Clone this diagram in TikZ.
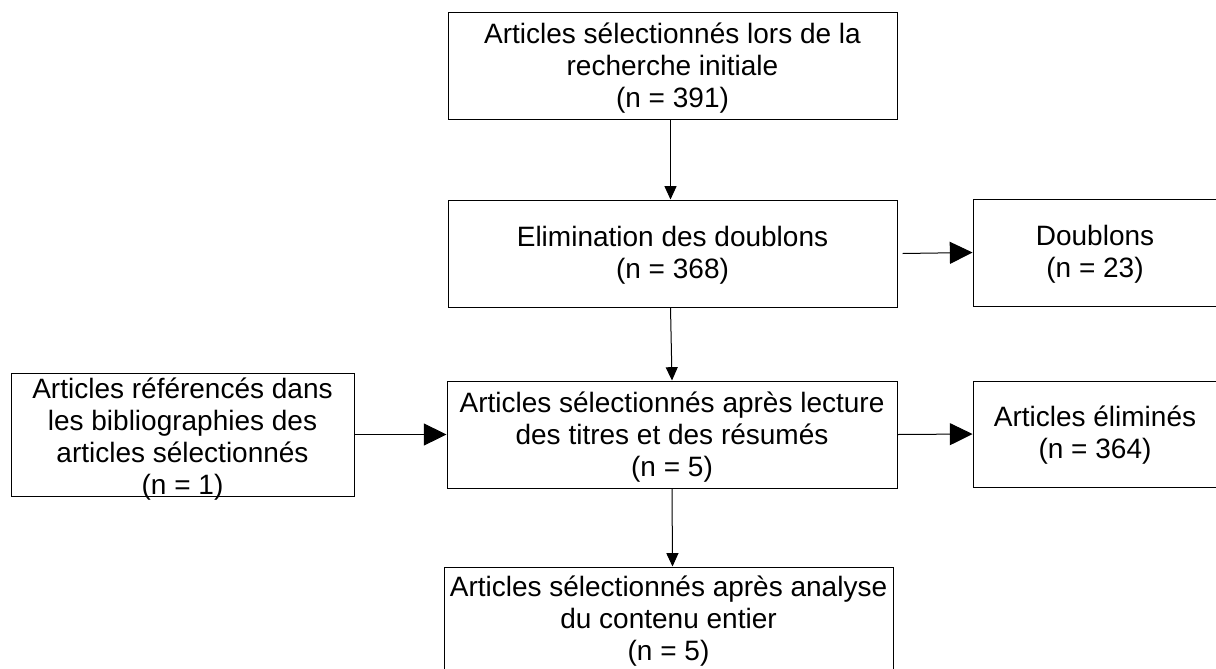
\documentclass[tikz,border=0pt]{standalone}
\usepackage{fontspec}
\setmainfont{Liberation Sans}
\usetikzlibrary{arrows.meta}
\tikzset{
  box/.style={draw=black, line width=0.75pt, rectangle, inner sep=0pt, fill=white},
  txt/.style={align=center, inner sep=0pt, font=\fontsize{21}{24}\selectfont},
  smallarrow/.style={draw=black, line width=0.75pt, -{Triangle[width=9pt,length=10pt]}},
  bigarrow/.style={draw=black, line width=0.75pt, -{Triangle[width=16.5pt,length=17pt]}}
}
\begin{document}
\begin{tikzpicture}[x=0.75pt,y=-0.75pt]
\clip (0,0) rectangle (1216,668);
\fill[white] (0,0) rectangle (1216,668);
% boxes
\node[box, minimum width=449*0.75pt, minimum height=107*0.75pt] (b1) at (672.5,65.5) {};
\node[txt] (b1t) at (672.5,68) {Articles sélectionnés lors de la\\recherche initiale\\(n = 391)};
\node[box, minimum width=449*0.75pt, minimum height=107*0.75pt] (b2) at (672.5,253.5) {};
\node[txt] (b2t) at (672.5,255) {Elimination des doublons\\(n = 368)};
\node[box, minimum width=247*0.75pt, minimum height=107*0.75pt] (dbl) at (1096.5,252.5) {};
\node[txt] (dblt) at (1095,254) {Doublons\\(n = 23)};
\node[box, minimum width=450*0.75pt, minimum height=107*0.75pt] (b3) at (672,434.5) {};
\node[txt] (b3t) at (672,437) {Articles sélectionnés après lecture\\des titres et des résumés\\(n = 5)};
\node[box, minimum width=247*0.75pt, minimum height=106*0.75pt] (elim) at (1096.5,434) {};
\node[txt] (elimt) at (1095,435.5) {Articles éliminés\\(n = 364)};
\node[box, minimum width=343*0.75pt, minimum height=123*0.75pt] (ref) at (182.5,434.5) {};
\node[txt] (reft) at (182.5,439) {Articles référencés dans\\les bibliographies des\\articles sélectionnés\\(n = 1)};
\node[box, minimum width=449*0.75pt, minimum height=107*0.75pt] (b4) at (668.5,620.5) {};
\node[txt] (b4t) at (668.5,621.5) {Articles sélectionnés après analyse\\du contenu entier\\(n = 5)};
% connectors
\draw[smallarrow] ([xshift=-1.5pt]b1.south) -- ([xshift=-1.5pt]b2.north);
\draw[bigarrow] ([xshift=3.75pt]b2.east) -- (dbl.west);
\draw[smallarrow] ([xshift=-1.5pt]b2.south) -- (b3.north);
\draw[bigarrow] (ref.east) -- (b3.west);
\draw[bigarrow] (b3.east) -- (elim.west);
\draw[smallarrow] (b3.south) -- ([xshift=3pt]b4.north);
\end{tikzpicture}
\end{document}
